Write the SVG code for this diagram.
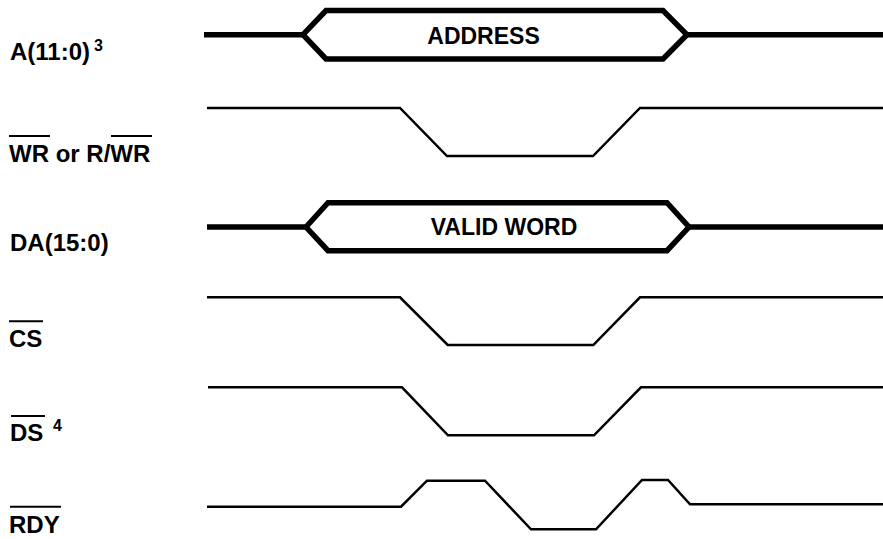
<svg xmlns="http://www.w3.org/2000/svg" width="883" height="539" viewBox="0 0 883 539">
<style>
.lbl{font-family:"Liberation Sans",Arial,sans-serif;font-weight:bold;font-size:24px;fill:#000}
.bl{font-family:"Liberation Sans",Arial,sans-serif;font-weight:bold;font-size:23px;fill:#000}
.sup{font-family:"Liberation Sans",Arial,sans-serif;font-weight:bold;font-size:16px;fill:#000}
.bus{fill:none;stroke:#000;stroke-width:5.5}
.sig{fill:none;stroke:#000;stroke-width:2.5}
.ovl{stroke:#000;stroke-width:2}
</style>
<rect width="883" height="539" fill="#fff"/>
<g id="labels">
<text class="lbl" x="10" y="59.5">A(11:0)</text>
<text class="sup" x="94" y="50.5">3</text>
<text class="lbl" x="9" y="161.5">WR or R/WR</text>
<line class="ovl" x1="9" y1="136" x2="50" y2="136"/>
<line class="ovl" x1="111" y1="136" x2="152" y2="136"/>
<text class="lbl" x="10" y="251">DA(15:0)</text>
<text class="lbl" x="9" y="346.5">CS</text>
<line class="ovl" x1="9" y1="321.3" x2="43" y2="321.3"/>
<text class="lbl" x="10" y="441">DS</text>
<line class="ovl" x1="11" y1="416" x2="45" y2="416"/>
<text class="sup" x="53" y="431">4</text>
<text class="lbl" x="9" y="533">RDY</text>
<line class="ovl" x1="10" y1="506.7" x2="61" y2="506.7"/>
</g>
<g id="connectors">
<g id="addr">
<polyline class="bus" points="204,34.7 303,34.7"/>
<polygon class="bus" points="303,34.7 326,10.5 663,10.5 687,34.7 663,59 326,59"/>
<polyline class="bus" points="687,34.7 883,34.7"/>
<text class="bl" x="483.5" y="44" text-anchor="middle">ADDRESS</text>
</g>
<g id="wr">
<polyline class="sig" points="207,108 400,108 447,156 593,156 640,108 883,108"/>
</g>
<g id="da">
<polyline class="bus" points="207,227 306,227"/>
<polygon class="bus" points="306,227 328,202.7 667,202.7 689,227 667,250.7 328,250.7"/>
<polyline class="bus" points="689,227 883,227"/>
<text class="bl" x="504" y="235" text-anchor="middle">VALID WORD</text>
</g>
<g id="cs">
<polyline class="sig" points="207,297.3 400,297.3 447.7,345 593.3,345 640,297.3 883,297.3"/>
</g>
<g id="ds">
<polyline class="sig" points="208,387.3 402,387.3 448,435.3 594,435.3 641,387.3 883,387.3"/>
</g>
<g id="rdy">
<polyline class="sig" points="207,506.7 401,506.7 427,480.7 485,480.7 531,529.3 596,529.3 642,480 668,480 690,504.3 883,504.3"/>
</g>
</g>
</svg>
